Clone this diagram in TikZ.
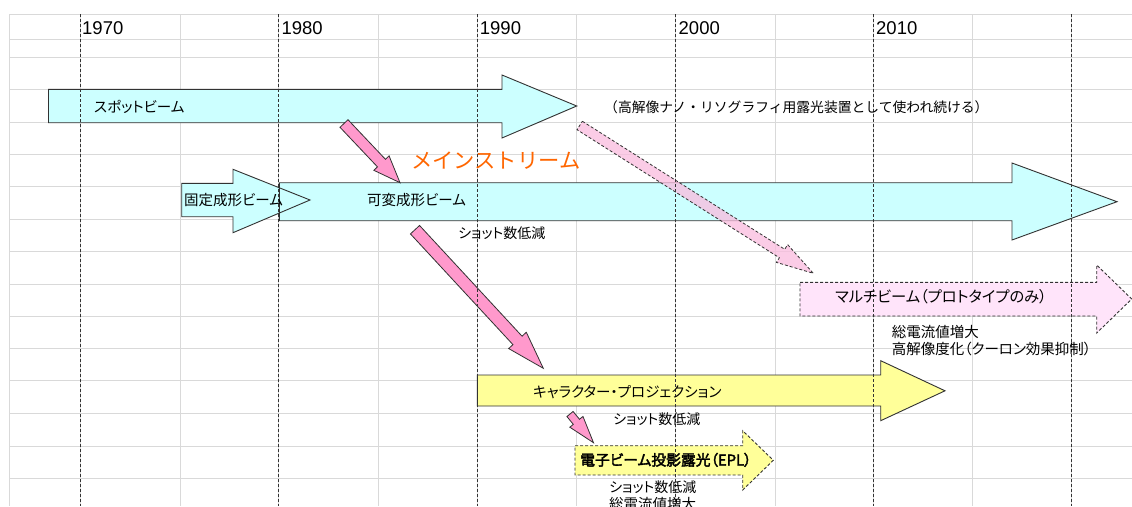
\documentclass[tikz,border=0pt]{standalone}
\usepackage{fontspec}
\newfontfamily\jp{Noto Sans CJK JP}[RawFeature=+palt]
\newfontfamily\jpfull{Noto Sans CJK JP}
\newfontfamily\jpb{Noto Sans CJK JP}[RawFeature=+palt,FakeBold=2.5]
\newfontfamily\yr{Liberation Sans}
\usetikzlibrary{calc}
\definecolor{beamcyan}{RGB}{204,255,255}
\definecolor{beampink}{RGB}{255,153,204}
\definecolor{lightpink}{RGB}{250,188,222}
\definecolor{multipink}{RGB}{255,228,250}
\definecolor{charyellow}{RGB}{255,255,153}
\definecolor{mainorange}{RGB}{255,102,0}
\definecolor{gridgray}{RGB}{217,217,217}
\definecolor{edgecol}{RGB}{50,50,50}
\tikzset{
  gridline/.style={draw=gridgray, line width=1pt},
  yearline/.style={draw=black!80, line width=0.8pt, dash pattern=on 3pt off 2pt},
  cyanbeam/.style={fill=beamcyan, draw=edgecol, line width=0.9pt},
  yellowbeam/.style={fill=charyellow, draw=edgecol, line width=0.9pt},
  dashyellow/.style={fill=charyellow, draw=edgecol, line width=0.9pt, dash pattern=on 3pt off 2pt},
  dashmulti/.style={fill=multipink, draw=edgecol, line width=0.9pt, dash pattern=on 3pt off 2pt},
  pinkarrow/.style={fill=beampink, draw=edgecol, line width=0.8pt, line join=miter},
  ghostarrow/.style={fill=lightpink, fill opacity=0.75, draw=edgecol, line width=0.8pt, dash pattern=on 3pt off 2pt},
  lbl/.style={font=\jp\fontsize{14.5pt}{17.6pt}\selectfont, inner sep=0pt, anchor=base west, text=black},
  fulllbl/.style={font=\jpfull\fontsize{13.8pt}{17.6pt}\selectfont, inner sep=0pt, anchor=base west, text=black},
  boldlbl/.style={font=\jpb\fontsize{14.8pt}{17.6pt}\selectfont, inner sep=0pt, anchor=base west, text=black},
  yearlbl/.style={font=\yr\fontsize{18.5pt}{20pt}\selectfont, inner sep=0pt, anchor=base west, text=black},
  mainlbl/.style={font=\jpfull\fontsize{21.3pt}{24pt}\selectfont, inner sep=0pt, anchor=base west, text=mainorange},
}
% horizontal block arrow: style, x0, xhead, ytop, ybot, headtop, headbot, xtip, ytip
\newcommand\hbeam[9]{\path[#1] (#2,#4) -- (#3,#4) -- (#3,#6) -- (#8,#9) -- (#3,#7) -- (#3,#5) -- (#2,#5) -- cycle;}
% diagonal block arrow: style, tail, tip, half shaft width, half head width, head length
\newcommand\barrow[6]{%
  \coordinate (bah) at ($(#3)!#6pt!(#2)$);
  \path[#1] ($(#2)!#4pt!90:(#3)$) -- ($(bah)!#4pt!90:(#3)$) -- ($(bah)!#5pt!90:(#3)$) -- (#3)
    -- ($(bah)!#5pt!-90:(#3)$) -- ($(bah)!#4pt!-90:(#3)$) -- ($(#2)!#4pt!-90:(#3)$) -- cycle;}
\begin{document}
\begin{tikzpicture}[x=1pt,y=-1pt]
\fill[white] (0,0) rectangle (1132,506);
\useasboundingbox (0,0) rectangle (1132,506);
\clip (0,0) rectangle (1132,506);
% spreadsheet grid
\foreach \y in {14,39.3,57.3,89.3,122.7,154.3,186.7,219,251,284,316,348.7,380.7,413.3,446,478.3}
  \draw[gridline] (9.3,\y) -- (1132,\y);
\foreach \x in {9.3,80,180,278.3,378,477,576,675,775,873,972,1071}
  \draw[gridline] (\x,14) -- (\x,506);
% beams
\hbeam{cyanbeam}{48.5}{502}{89.3}{122.7}{75}{138}{576.7}{106}
\hbeam{fill=beamcyan}{181.7}{233}{183.3}{216.7}{169.3}{232.7}{310}{200}
\hbeam{cyanbeam}{279.3}{1012}{182.7}{220.7}{163}{240}{1117}{201.7}
\hbeam{draw=edgecol, line width=0.9pt}{181.7}{233}{183.3}{216.7}{169.3}{232.7}{310}{200}
\hbeam{yellowbeam}{477.3}{880.7}{375}{406}{360.7}{420.7}{945}{390.8}
\hbeam{dashyellow}{575}{742.7}{445.7}{475}{430.7}{490}{773.3}{460.3}
\hbeam{dashmulti}{800}{1096.7}{282.3}{316}{265}{333}{1131.7}{299}
% connectors between beams
\coordinate (a1s) at (344,123.5);
\coordinate (a1t) at (400,182.7);
\coordinate (a2s) at (415,229.7);
\coordinate (a2t) at (543.3,368.3);
\coordinate (a3s) at (579.7,125.5);
\coordinate (a3t) at (813.3,273.3);
\coordinate (a4s) at (570,414);
\coordinate (a4t) at (593.5,442.7);
\barrow{pinkarrow}{a1s}{a1t}{5.5}{10.5}{27}
\barrow{pinkarrow}{a2s}{a2t}{6.2}{12}{38}
\barrow{pinkarrow}{a4s}{a4t}{4}{8.5}{27}
\barrow{ghostarrow}{a3s}{a3t}{5}{10.5}{37}
% year lines
\foreach \x in {80,278.3,477,675,873,1071}
  \draw[yearline] (\x,14) -- (\x,506);
% years
\node[yearlbl] (y1970) at (82,34.3) {1970};
\node[yearlbl] (y1980) at (281.3,34.3) {1980};
\node[yearlbl] (y1990) at (479.7,34.3) {1990};
\node[yearlbl] (y2000) at (678.5,34.3) {2000};
\node[yearlbl] (y2010) at (876,34.3) {2010};
% labels
\node[lbl] (spot) at (94,112.5) {スポットビーム};
\node[fulllbl] (spotnote) at (604,112.3) {（高解像ナノ・リソグラフィ用露光装置として使われ続ける）};
\node[mainlbl] (main) at (411,168) {メインストリーム};
\node[lbl] (fixed) at (184,205.5) {固定成形ビーム};
\node[lbl] (var) at (367,205.5) {可変成形ビーム};
\node[lbl, font=\jp\fontsize{14pt}{17.6pt}\selectfont] (varnote) at (458,238.2) {ショット数低減};
\node[lbl, font=\jp\fontsize{15.3pt}{17.6pt}\selectfont] (multi) at (835,302.8) {マルチビーム（プロトタイプのみ）};
\node[lbl] (multinote1) at (891.7,337.2) {総電流値増大};
\node[lbl] (multinote2) at (891.7,354.8) {高解像度化（クーロン効果抑制）};
\node[lbl] (charp) at (533,397) {キャラクター・プロジェクション};
\node[lbl, font=\jp\fontsize{14pt}{17.6pt}\selectfont] (charnote) at (613,424.8) {ショット数低減};
\node[boldlbl] (epl) at (580,465.5) {電子ビーム投影露光（EPL）};
\node[lbl, font=\jp\fontsize{14pt}{17.6pt}\selectfont] (eplnote1) at (609,492.2) {ショット数低減};
\node[lbl] (eplnote2) at (609,509.8) {総電流値増大};
\end{tikzpicture}
\end{document}
